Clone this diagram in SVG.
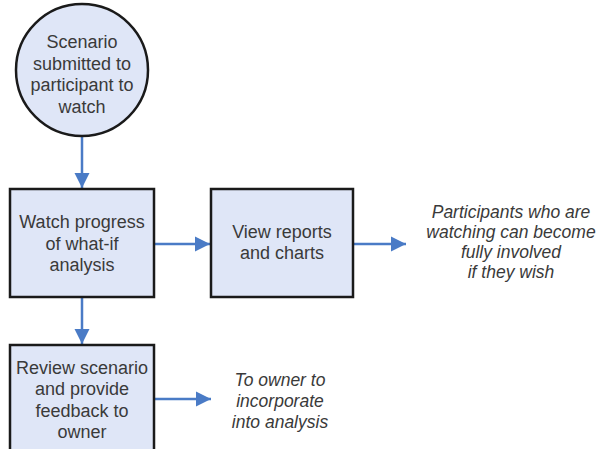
<svg xmlns="http://www.w3.org/2000/svg" width="598" height="449" viewBox="0 0 598 449">
  <style>
    .shape { fill: #dfe6f7; stroke: #1a1a1a; stroke-width: 2.5; }
    .label { font-family: "Liberation Sans", Arial, sans-serif; font-size: 18px; fill: #3a3a3a; text-anchor: middle; }
    .note { font-family: "Liberation Sans", Arial, sans-serif; font-size: 17.5px; font-style: italic; fill: #3a3a3a; text-anchor: middle; }
    .flow { stroke: #4a7bc6; stroke-width: 2.5; fill: none; }
  </style>
  <defs>
    <marker id="arrow" viewBox="0 0 10 10" refX="10" refY="5" markerWidth="6" markerHeight="6.4" markerUnits="strokeWidth" orient="auto">
      <path d="M0,0 L10,5 L0,10 Z" fill="#4a7bc6"/>
    </marker>
  </defs>
  <rect width="598" height="449" fill="#ffffff"/>

  <g id="connectors">
    <line class="flow" x1="82" y1="137" x2="82" y2="188" marker-end="url(#arrow)"/>
    <line class="flow" x1="154" y1="244" x2="210" y2="244" marker-end="url(#arrow)"/>
    <line class="flow" x1="353" y1="244" x2="406" y2="244" marker-end="url(#arrow)"/>
    <line class="flow" x1="82" y1="297" x2="82" y2="344" marker-end="url(#arrow)"/>
    <line class="flow" x1="154" y1="399" x2="211" y2="399" marker-end="url(#arrow)"/>
  </g>

  <g id="start">
    <circle class="shape" cx="82" cy="70" r="66"/>
    <text class="label" x="82" y="48">Scenario</text>
    <text class="label" x="82" y="69.5">submitted to</text>
    <text class="label" x="82" y="91">participant to</text>
    <text class="label" x="82" y="112.5">watch</text>
  </g>

  <g id="watch">
    <rect class="shape" x="10" y="189" width="144" height="108"/>
    <text class="label" x="82" y="228">Watch progress</text>
    <text class="label" x="82" y="249.5">of what-if</text>
    <text class="label" x="82" y="271">analysis</text>
  </g>

  <g id="reports">
    <rect class="shape" x="211" y="189" width="142" height="108"/>
    <text class="label" x="282" y="238">View reports</text>
    <text class="label" x="282" y="259">and charts</text>
  </g>

  <g id="involved">
    <text class="note" x="511" y="218">Participants who are</text>
    <text class="note" x="511" y="238">watching can become</text>
    <text class="note" x="511" y="258">fully involved</text>
    <text class="note" x="511" y="278">if they wish</text>
  </g>

  <g id="review">
    <rect class="shape" x="10" y="345" width="144" height="120"/>
    <text class="label" x="82" y="374">Review scenario</text>
    <text class="label" x="82" y="395">and provide</text>
    <text class="label" x="82" y="416.5">feedback to</text>
    <text class="label" x="82" y="438">owner</text>
  </g>

  <g id="owner">
    <text class="note" x="280" y="386">To owner to</text>
    <text class="note" x="280" y="407">incorporate</text>
    <text class="note" x="280" y="428">into analysis</text>
  </g>
</svg>
